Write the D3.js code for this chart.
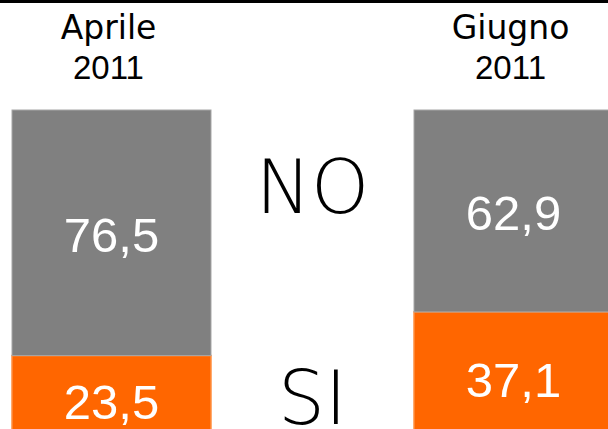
<!DOCTYPE html>
<html lang="it">
<head>
<meta charset="UTF-8">
<title>NO / SI - Aprile e Giugno 2011</title>
<script src="https://cdn.jsdelivr.net/npm/d3@7"></script>
<style>
    html, body { margin: 0; padding: 0; background: #fff; overflow: hidden; }
    svg { display: block; }
</style>
</head>
<body>
<script>
    // data
    const periods = ["Aprile 2011", "Giugno 2011"];
    const seriesKeys = ["NO", "SI"];
    const noValues = [76.5, 62.9];
    const siValues = [23.5, 37.1];

    const width = 608, height = 429;
    const colors = { NO: "#808080", SI: "#ff6600" };
    const strokes = { NO: "#a6a6a6", SI: "#ff8f40" };
    const wordFont = "'Century Gothic', 'DejaVu Sans', sans-serif";
    const numFont = "'Century Gothic', 'Liberation Sans', Arial, sans-serif";

    const table = periods.map((p, i) => ({ period: p, NO: noValues[i], SI: siValues[i] }));
    // NO sits on top, SI at the bottom
    const stacked = d3.stack().keys(["SI", "NO"])(table);

    const x = d3.scaleBand()
        .domain(periods)
        .range([12, 613])
        .paddingInner(0.505)
        .paddingOuter(0);

    const y = d3.scaleLinear()
        .domain([0, 100])
        .range([431, 110]);

    const fmt = d3.formatLocale({ decimal: ",", thousands: ".", grouping: [3], currency: ["", "€"] }).format(".1f");

    const svg = d3.select("body").append("svg")
        .attr("width", width)
        .attr("height", height);

    // top rule
    svg.append("rect")
        .attr("x", 0).attr("y", 0)
        .attr("width", width).attr("height", 3)
        .attr("fill", "#000");

    // bars
    const layers = svg.selectAll("g.layer")
        .data(stacked)
        .join("g")
        .attr("class", "layer");

    layers.selectAll("rect")
        .data(s => s.map(d => ({ key: s.key, d })))
        .join("rect")
        .attr("x", v => x(v.d.data.period))
        .attr("y", v => y(v.d[1]))
        .attr("width", x.bandwidth())
        .attr("height", v => y(v.d[0]) - y(v.d[1]))
        .attr("fill", v => colors[v.key])
        .attr("stroke", v => strokes[v.key])
        .attr("stroke-width", v => v.key === "SI" ? 1.5 : 1);

    // value labels
    layers.selectAll("text")
        .data(s => s.map(d => ({ key: s.key, d })))
        .join("text")
        .attr("x", v => x(v.d.data.period) + x.bandwidth() / 2)
        .attr("y", v => (y(v.d[0]) + y(v.d[1])) / 2 + (v.key === "SI" ? 8 : 2) + 17.5)
        .attr("text-anchor", "middle")
        .attr("font-family", numFont)
        .attr("font-size", 49)
        .attr("fill", "#fff")
        .text(v => fmt(v.d.data[v.key]));

    // period headers (two lines)
    const headers = svg.selectAll("g.header")
        .data(periods)
        .join("g")
        .attr("class", "header")
        .attr("transform", p => `translate(${x(p) + x.bandwidth() / 2 - 3},0)`);

    headers.append("text")
        .attr("y", 39)
        .attr("text-anchor", "middle")
        .attr("font-family", wordFont)
        .attr("font-size", 33)
        .attr("fill", "#000")
        .text(p => p.split(" ")[0]);

    headers.append("text")
        .attr("y", 79)
        .attr("text-anchor", "middle")
        .attr("font-family", numFont)
        .attr("font-size", 33)
        .attr("fill", "#000")
        .text(p => p.split(" ")[1]);

    // series names between the bars
    const midX = (x(periods[0]) + x.bandwidth() + x(periods[1])) / 2;
    const nameBaselines = { NO: 213, SI: 424 };
    svg.selectAll("text.series")
        .data(seriesKeys)
        .join("text")
        .attr("class", "series")
        .attr("x", midX)
        .attr("y", k => nameBaselines[k])
        .attr("text-anchor", "middle")
        .attr("font-family", wordFont)
        .attr("font-weight", 200)
        .attr("font-size", 74)
        .attr("fill", "#000")
        .text(k => k);
</script>
</body>
</html>
